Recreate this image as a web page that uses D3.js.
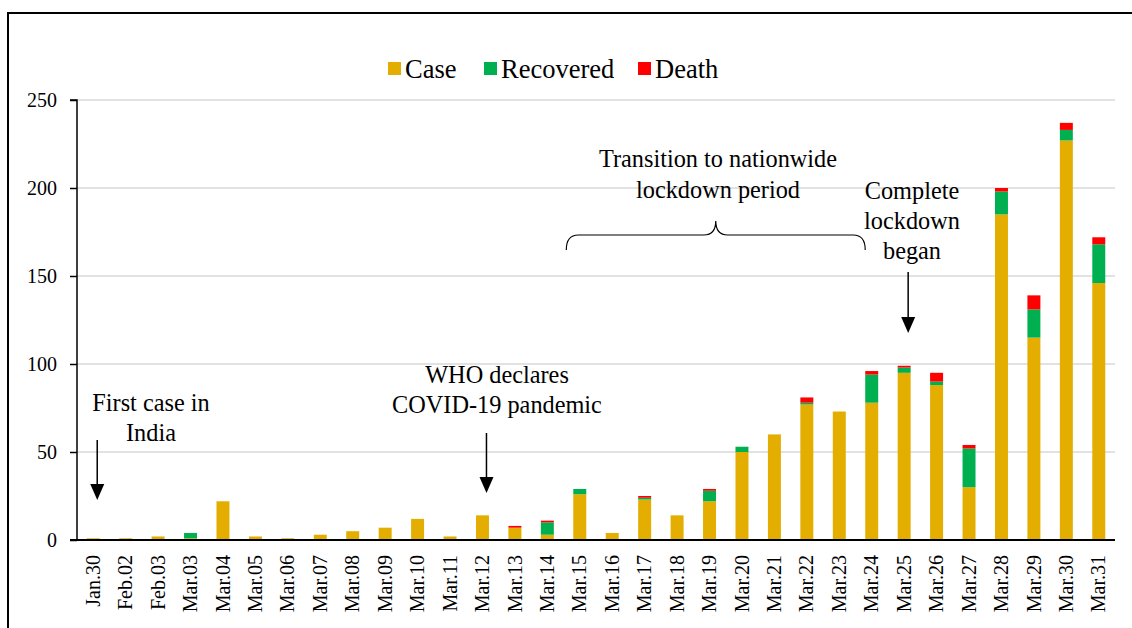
<!DOCTYPE html>
<html>
<head>
<meta charset="utf-8">
<script src="https://cdn.jsdelivr.net/npm/d3@7"></script>
<style>
	body { margin: 0; background: #fff; }
	svg text { font-family: "Liberation Serif", "Times New Roman", serif; fill: #000; }
</style>
</head>
<body>
<div id="chart"></div>
<script>
const dates = ["Jan.30","Feb.02","Feb.03","Mar.03","Mar.04","Mar.05","Mar.06","Mar.07","Mar.08","Mar.09",
	"Mar.10","Mar.11","Mar.12","Mar.13","Mar.14","Mar.15","Mar.16","Mar.17","Mar.18","Mar.19","Mar.20",
	"Mar.21","Mar.22","Mar.23","Mar.24","Mar.25","Mar.26","Mar.27","Mar.28","Mar.29","Mar.30","Mar.31"];
const cases     = [1,1,2,1,22,2,1,3,5,7,12,2,14,7,3,26,4,23,14,22,50,60,77,73,78,95,88,30,185,115,227,146];
const recovered = [0,0,0,3,0,0,0,0,0,0,0,0,0,0,7,3,0,1,0,6,3,0,1,0,16,3,2,22,13,16,6,22];
const deaths    = [0,0,0,0,0,0,0,0,0,0,0,0,0,1,1,0,0,1,0,1,0,0,3,0,2,1,5,2,2,8,4,4];
const yTicks = [0,50,100,150,200,250];
const seriesNames = ["Case","Recovered","Death"];
const colors = ["#E3AE00","#00B050","#FF0000"];

const width = 1132, height = 628;
const plotLeft = 77, plotRight = 1115, plotTop = 100, plotBottom = 540;

const svg = d3.select("div#chart")
	.append("svg")
		.attr("width", width)
		.attr("height", height);

// outer frame (cropped at right and bottom)
svg.append("path")
	.attr("d", `M8,${height + 5} L8,13 L${width + 5},13`)
	.attr("fill", "none")
	.attr("stroke", "#000")
	.attr("stroke-width", 2);

const rows = dates.map((d, i) => ({date: d, Case: cases[i], Recovered: recovered[i], Death: deaths[i]}));

const x = d3.scaleBand().domain(dates).range([plotLeft, plotRight]).paddingInner(0.6).paddingOuter(0.3);
const y = d3.scaleLinear().domain([0, 250]).range([plotBottom, plotTop]);

// gridlines
svg.append("g")
	.selectAll("line")
	.data(yTicks.filter(t => t > 0))
	.enter()
	.append("line")
		.attr("x1", plotLeft)
		.attr("x2", plotRight)
		.attr("y1", d => y(d))
		.attr("y2", d => y(d))
		.attr("stroke", "#d9d9d9")
		.attr("stroke-width", 1.5);

const stack = d3.stack().keys(seriesNames)(rows);

svg.append("g")
	.selectAll("g")
	.data(stack)
	.enter()
	.append("g")
		.attr("fill", (d, i) => colors[i])
	.selectAll("rect")
	.data(d => d)
	.enter()
	.append("rect")
		.attr("x", d => x(d.data.date))
		.attr("width", x.bandwidth())
		.attr("y", d => y(d[1]))
		.attr("height", d => y(d[0]) - y(d[1]));

// y axis
const axisY = d3.axisLeft(y).tickValues(yTicks).tickSize(7).tickPadding(13);
const gy = svg.append("g")
	.attr("transform", `translate(${plotLeft},0)`)
	.call(axisY);
gy.select(".domain").attr("stroke", "#000").attr("stroke-width", 1.5).attr("d", `M-7,${plotTop}H0V${plotBottom}`);
gy.selectAll(".tick line").attr("stroke", "#000").attr("stroke-width", 1.5);
gy.selectAll(".tick text").attr("font-size", 20).attr("font-family", "Liberation Serif, serif");

// x axis
const axisX = d3.axisBottom(x).tickSize(0).tickPadding(15);
const gx = svg.append("g")
	.attr("transform", `translate(0,${plotBottom})`)
	.call(axisX);
gx.select(".domain").attr("stroke", "#000").attr("stroke-width", 2).attr("d", `M${plotLeft - 7},0H${plotRight}`);
gx.selectAll(".tick text")
	.attr("font-size", 20)
	.attr("font-family", "Liberation Serif, serif")
	.attr("text-anchor", "end")
	.attr("transform", "rotate(-90)")
	.attr("x", -15)
	.attr("y", 0)
	.attr("dy", ".33em");

// legend
const legend = svg.append("g");
const legendX = [388, 484, 638];
seriesNames.forEach((name, i) => {
	legend.append("rect")
		.attr("x", legendX[i]).attr("y", 62)
		.attr("width", 13).attr("height", 13)
		.attr("fill", colors[i]);
	legend.append("text")
		.attr("x", legendX[i] + 17).attr("y", 78)
		.attr("font-size", 26.5)
		.text(name);
});

// annotations
function note(lines, cx, baseline, lineGap) {
	const t = svg.append("text")
		.attr("text-anchor", "middle")
		.attr("font-size", 24.3);
	lines.forEach((l, i) => {
		t.append("tspan").attr("x", cx).attr("y", baseline + i * lineGap).text(l);
	});
}

function arrow(date, y1, y2) {
	const ax = x(date) + x.bandwidth() / 2 + 4;
	svg.append("line")
		.attr("x1", ax).attr("x2", ax)
		.attr("y1", y1).attr("y2", y2 - 15)
		.attr("stroke", "#000").attr("stroke-width", 1.5);
	svg.append("path")
		.attr("d", `M${ax - 7},${y2 - 16} L${ax + 7},${y2 - 16} L${ax},${y2} Z`)
		.attr("fill", "#000");
}

note(["First case in", "India"], 151, 411, 30);
arrow("Jan.30", 440, 500);

note(["WHO declares", "COVID-19 pandemic"], 497, 383, 30);
arrow("Mar.12", 433, 493);

note(["Transition to nationwide", "lockdown period"], 718, 167, 31);

note(["Complete", "lockdown", "began"], 912, 199, 30);
arrow("Mar.25", 272, 333);

// brace over the transition period
const bx1 = x("Mar.15") - 7, bx2 = x("Mar.24"), bmid = (bx1 + bx2) / 2;
svg.append("path")
	.attr("d", `M${bx1},250 Q${bx1},235 ${bx1 + 12},235 L${bmid - 12},235 Q${bmid},235 ${bmid},221 Q${bmid},235 ${bmid + 12},235 L${bx2 - 12},235 Q${bx2},235 ${bx2},250`)
	.attr("fill", "none")
	.attr("stroke", "#000")
	.attr("stroke-width", 1.2);
</script>
</body>
</html>
